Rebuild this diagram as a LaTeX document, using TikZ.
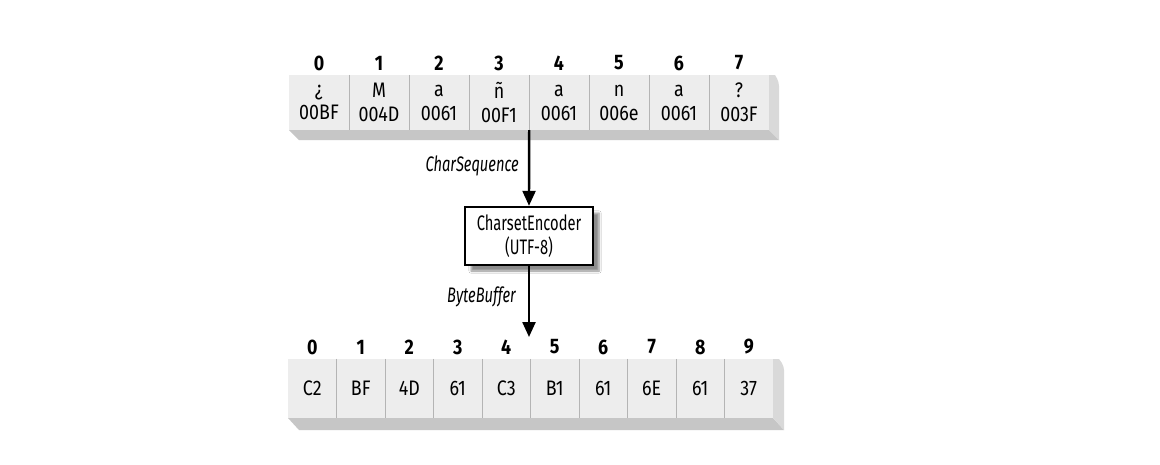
\documentclass[tikz,border=0pt]{standalone}
\usepackage{fontspec}
\setmainfont{Fira Sans}[FakeStretch=0.85]
\newfontfamily\narrowfont{Fira Sans}[FakeStretch=0.7]
\usetikzlibrary{arrows.meta,shadows.blur}
\definecolor{cellfill}{HTML}{EDEDED}
\definecolor{sepcol}{HTML}{B4B4B4}
\definecolor{botface}{HTML}{C6C6C6}
\definecolor{rightface}{HTML}{D9D9D9}
\begin{document}
\begin{tikzpicture}[x=1pt,y=-1pt,
  cellT/.style={fill=cellfill,minimum width=60pt,minimum height=55pt,inner sep=0pt,align=center,font=\fontsize{21}{24}\selectfont},
  cellB/.style={fill=cellfill,minimum width=48.5pt,minimum height=59pt,inner sep=0pt,align=center,font=\fontsize{21}{22}\selectfont},
  idx/.style={inner sep=0pt,font=\fontsize{21}{22}\selectfont\bfseries},
  sepline/.style={draw=sepcol,line width=1.2pt},
  lab/.style={inner sep=0pt,font=\fontsize{21}{22}\selectfont\narrowfont\itshape},
  enc/.style={draw=black,line width=2.4pt,fill=white,minimum width=128pt,minimum height=58pt,inner sep=0pt,align=center,font=\fontsize{21}{24}\selectfont\narrowfont,blur shadow={shadow xshift=6pt,shadow yshift=-6pt,shadow blur steps=6,shadow opacity=45}},
  arr/.style={line width=2.4pt,-{Triangle[width=13pt,length=15pt]}}]
\fill[white] (0,0) rectangle (1160,464);
\useasboundingbox (0,0) rectangle (1160,464);
% top array extrusion
\fill[botface] (289,130) -- (299,140) -- (779,140) -- (769,130) -- cycle;
\fill[rightface] (769,75) -- (775,75) [rounded corners=4pt] -- (779,82) [sharp corners] -- (779,140) -- (769,130) -- cycle;
% top cells
\foreach \i/\c/\u in {0/¿/00BF,1/M/004D,2/a/0061,3/ñ/00F1,4/a/0061,5/n/006e,6/a/0061,7/?/003F}{
  \node[cellT] (t\i) at ({319+60*\i},102.5) {\c\\\u};
  \node[idx] (it\i) at ({319+60*\i},63) {\i};
}
\foreach \i in {0,...,6}{\draw[sepline] (t\i.north east) -- (t\i.south east);}
% bottom array extrusion
\fill[botface] (288,418) -- (299,430) -- (784,430) -- (773,418) -- cycle;
\fill[rightface] (773,359) -- (779,359) [rounded corners=4pt] -- (784,366) [sharp corners] -- (784,430) -- (773,418) -- cycle;
\foreach \i/\b in {0/C2,1/BF,2/4D,3/61,4/C3,5/B1,6/61,7/6E,8/61,9/37}{
  \node[cellB] (b\i) at ({312.25+48.5*\i},388.5) {\b};
  \node[idx] (ib\i) at ({312.25+48.5*\i},347) {\i};
}
\foreach \i in {0,...,8}{\draw[sepline] (b\i.north east) -- (b\i.south east);}
% encoder
\node[enc] (encoder) at (529,236) {CharsetEncoder\\(UTF-8)};
\coordinate (tip) at (529,337);
\draw[arr] (t3.south east) -- (encoder.north);
\draw[arr] (encoder.south) -- (tip);
\node[lab,anchor=east] (cs) at (519,166) {CharSequence};
\node[lab,anchor=east] (bb) at (516,297) {ByteBuffer};
\end{tikzpicture}
\end{document}
